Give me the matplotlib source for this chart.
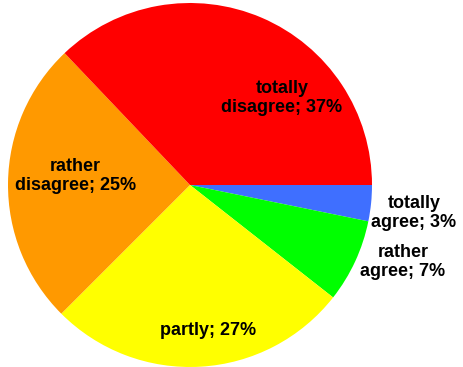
import matplotlib.pyplot as plt

# answer categories, in drawing order (clockwise from 3 o'clock)
categories = ['totally\nagree', 'rather\nagree', 'partly', 'rather\ndisagree', 'totally\ndisagree']
shares = [3.2, 7.4, 26.9, 25.4, 37.1]
colors = ['#3f6fff', '#00ff00', '#ffff00', '#ff9900', '#ff0000']

plt.rcParams['font.family'] = ['Liberation Sans', 'DejaVu Sans']

fig = plt.figure(figsize=(4.63, 3.67), dpi=100)
ax = fig.add_axes([8 / 463, 0.0, 364 / 463, 364 / 367])

ax.pie(shares, colors=colors, startangle=0, counterclock=False, radius=1,
       wedgeprops=dict(linewidth=0))

# label spots (data coords, pie radius = 1)
label_pos = [(1.23, -0.155), (1.17, -0.425), (0.10, -0.80), (-0.63, 0.05), (0.505, 0.48)]
for cat, v, (x, y) in zip(categories, shares, label_pos):
    ax.text(x, y, f'{cat}; {v:.0f}%', ha='center', va='center', fontsize=13,
            fontweight='bold', linespacing=1.15)

ax.set_xlim(-1, 1)
ax.set_ylim(-1, 1)
ax.set_aspect('equal')
ax.axis('off')

fig.savefig('out.png', dpi=100)
